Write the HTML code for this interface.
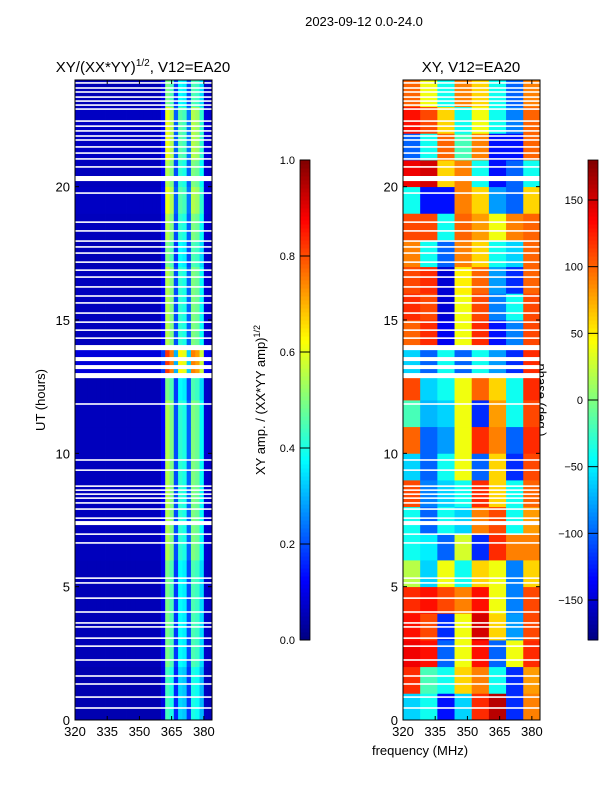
<!DOCTYPE html>
<html><head><meta charset="utf-8"><style>
body{margin:0;background:#fff}
svg{display:block;font-family:"Liberation Sans","DejaVu Sans",sans-serif}
</style></head><body>
<svg id="fig" width="600" height="800" viewBox="0 0 600 800">
<rect width="600" height="800" fill="#fff"/>
<text x="364" y="26" font-size="13" text-anchor="middle">2023-09-12 0.0-24.0</text>
<text x="143" y="72" font-size="15" text-anchor="middle">XY/(XX*YY)<tspan font-size="10" dy="-6">1/2</tspan><tspan dy="6">, V12=EA20</tspan></text>
<text x="471" y="72" font-size="15" text-anchor="middle">XY, V12=EA20</text>
<text transform="translate(45,400) rotate(-90)" font-size="13" text-anchor="middle">UT (hours)</text>
<text x="420" y="755" font-size="13" text-anchor="middle">frequency (MHz)</text>
<text transform="translate(265,400) rotate(-90)" font-size="13" text-anchor="middle">XY amp. / (XX*YY amp)<tspan font-size="9" dy="-5">1/2</tspan></text>
<text transform="translate(537,400) rotate(90)" font-size="13" text-anchor="middle">phase (deg.)</text>
<g id="ampPanel"></g>
<g id="phasePanel"></g>
<g id="cbars"></g>
</svg>
<script>
// ---- data ----
const freqTicks = [320, 335, 350, 365, 380];
const hourTicks = [0, 5, 10, 15, 20];
const ampTicks = [0.0, 0.2, 0.4, 0.6, 0.8, 1.0];
const phaseTicks = [-150, -100, -50, 0, 50, 100, 150];
// amplitude frequency profile, 2 MHz bins from 320 to 384
const ampProfile = [0.06,0.06,0.06,0.06,0.06,0.06,0.06,0.06,0.06,0.06,0.06,0.06,0.06,0.06,0.06,0.06,0.06,0.06,0.06,0.06,
  0.12,0.55,0.5,0.2,0.42,0.4,0.22,0.5,0.48,0.38,0.08,0.07];
// hourly scale of amplitude (hour 0 .. 23)
const ampHourScale = [0.8,0.8,0.9,0.9,0.9,0.9,1.0,1.0,1.0,1.0,1.0,1.0,0.9,1.5,1.0,1.0,1.0,0.9,1.0,1.1,1.0,1.1,1.1,0.9];
// phase (deg), rows hour 0..23, columns 8 MHz bins 320..384
const phaseGrid = [
 [-60,-40,-130,-60,120,160,-120,90],
 [120,-20,-40,60,90,-40,-120,80],
 [140,130,-100,40,130,-100,40,120],
 [130,110,-120,40,150,60,-80,110],
 [120,130,110,90,130,40,-90,110],
 [20,-60,40,-40,60,40,-90,60],
 [-40,-50,-100,30,-120,120,90,90],
 [-40,-100,-40,-60,90,110,-40,80],
 [110,-90,-60,-40,120,60,-40,100],
 [-60,-100,-40,40,-100,60,-120,110],
 [100,-100,-80,40,120,90,-100,120],
 [-20,-70,-60,40,-120,80,-40,110],
 [110,-60,-40,40,100,60,-40,120],
 [-60,-100,-40,-100,-40,-80,-120,120],
 [100,120,-140,40,120,-130,-90,110],
 [120,110,-150,40,110,-90,-40,110],
 [110,120,-150,50,100,-80,-120,100],
 [90,-40,-100,90,60,-40,-60,100],
 [110,110,-40,100,80,40,90,100],
 [-40,-130,-130,90,60,-80,-100,60],
 [140,150,60,90,-40,-130,-100,-40],
 [-100,-40,100,-20,90,-130,-130,100],
 [130,110,60,-40,40,-40,-90,100],
 [100,40,-40,90,60,-40,-100,90]
];
// flagged (blank) time ranges, hours
const flagStart = [23.86,23.67,23.52,23.33,23.18,23.03,22.88,22.43,22.24,22.06,21.87,21.72,21.46,21.23,21.01,20.71,20.21,19.73,18.64,18.31,17.93,17.71,17.48,17.14,16.84,16.58,16.21,15.87,15.61,15.23,14.89,14.59,14.29,13.87,13.46,13.16,12.82,11.82,9.72,9.34,8.74,8.59,8.44,8.29,8.11,7.88,7.54,7.31,6.94,6.61,5.29,5.11,4.54,4.02,3.61,3.46,3.04,2.74,2.22,1.62,1.32,0.83,0.42];
const flagEnd   = [23.92,23.73,23.58,23.39,23.24,23.09,22.94,22.49,22.30,22.12,21.93,21.78,21.52,21.29,21.07,20.77,20.40,19.79,18.70,18.37,17.99,17.77,17.54,17.20,16.90,16.64,16.27,15.93,15.67,15.29,14.95,14.65,14.35,14.06,13.61,13.31,13.01,11.88,9.78,9.40,8.80,8.65,8.50,8.35,8.17,7.94,7.60,7.46,7.00,6.67,5.35,5.17,4.60,4.08,3.67,3.52,3.10,2.80,2.28,1.68,1.38,0.89,0.48];

// ---- helpers ----
const NS = 'http://www.w3.org/2000/svg';
function jet(v){v=Math.max(0,Math.min(1,v));
  const r=Math.max(0,Math.min(1,Math.min(4*v-1.5,-4*v+4.5)));
  const g=Math.max(0,Math.min(1,Math.min(4*v-0.5,-4*v+3.5)));
  const b=Math.max(0,Math.min(1,Math.min(4*v+0.5,-4*v+2.5)));
  return `rgb(${Math.round(r*255)},${Math.round(g*255)},${Math.round(b*255)})`;}
function mk(tag,attrs,parent){const e=document.createElementNS(NS,tag);for(const k in attrs)e.setAttribute(k,attrs[k]);parent.appendChild(e);return e;}
const Y0=720, Y1=80;
const yScale = h => Y0 - (h/24)*(Y0-Y1);
const fMin=320, fMax=383.8;
function xScaleFor(x0,x1){return f => x0 + (f-fMin)/(fMax-fMin)*(x1-x0);}

function drawPanel(gid, x0, x1, cellFn, nCols, colW, name){
  const g=document.getElementById(gid);
  const xs=xScaleFor(x0,x1);
  for(let i=0;i<24;i++){
    for(let j=0;j<nCols;j++){
      const fa=fMin+j*colW, fb=Math.min(fMax,fMin+(j+1)*colW);
      const r=mk('rect',{x:xs(fa),y:yScale(i+1),width:xs(fb)-xs(fa)+0.4,height:yScale(i)-yScale(i+1)+0.4,fill:cellFn(i,j)},g);
      
      
    }
  }
  for(let k=0;k<flagStart.length;k++){
    const r=mk('rect',{x:x0,y:yScale(flagEnd[k]),width:x1-x0,height:yScale(flagStart[k])-yScale(flagEnd[k]),fill:'#fff'},g);
    
    
  }
  const fr=mk('rect',{x:x0,y:Y1,width:x1-x0,height:Y0-Y1,fill:'none',stroke:'#000','stroke-width':1},g);
  
  
  freqTicks.forEach(f=>{
    const x=xs(f);
    mk('line',{x1:x,y1:Y0,x2:x,y2:Y0-4,stroke:'#000'},g);
    mk('line',{x1:x,y1:Y1,x2:x,y2:Y1+4,stroke:'#000'},g);
    const t=mk('text',{x:x,y:Y0+16,'font-size':13,'text-anchor':'middle'},g);
    t.textContent=f;
    
    
  });
  hourTicks.forEach(h=>{
    const y=yScale(h);
    mk('line',{x1:x0,y1:y,x2:x0+4,y2:y,stroke:'#000'},g);
    mk('line',{x1:x1,y1:y,x2:x1-4,y2:y,stroke:'#000'},g);
    const t=mk('text',{x:x0-5,y:y+5,'font-size':13,'text-anchor':'end'},g);
    t.textContent=h;
    
    
  });
}
drawPanel('ampPanel',75,212,(i,j)=>jet(ampProfile[j]*ampHourScale[i]),32,2,'amp');
drawPanel('phasePanel',403,540,(i,j)=>jet((phaseGrid[i][j]+180)/360),8,8,'phase');

function colorbar(x,vmin,vmax,ticks,name,fmt){
  const g=mk('g',{},document.getElementById('cbars'));
  
  
  const top=160,bot=640,n=120;
  for(let k=0;k<n;k++){
    mk('rect',{x:x,y:bot-(k+1)*(bot-top)/n,width:10,height:(bot-top)/n+0.5,fill:jet((k+0.5)/n)},g);
  }
  mk('rect',{x:x,y:top,width:10,height:bot-top,fill:'none',stroke:'#000','stroke-width':0.8},g);
  ticks.forEach(v=>{
    const y=bot-(v-vmin)/(vmax-vmin)*(bot-top);
    mk('line',{x1:x,y1:y,x2:x+10,y2:y,stroke:'#000'},g);
    const t=mk('text',{x:x-5,y:y+4,'font-size':11,'text-anchor':'end'},g);
    t.textContent=fmt(v);
    
    
  });
}
colorbar(300,0,1,ampTicks,'amp-colorbar',v=>v.toFixed(1));
colorbar(588,-180,180,phaseTicks,'phase-colorbar',v=>v<0?'\u2212'+(-v):String(v));
</script>
</body></html>
